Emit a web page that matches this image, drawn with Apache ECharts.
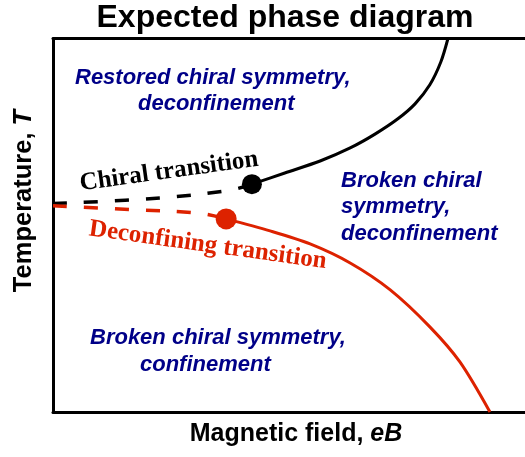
<!DOCTYPE html>
<html><head><meta charset="utf-8">
<script src="https://cdn.jsdelivr.net/npm/echarts@6/dist/echarts.min.js"></script>
<style>html,body{margin:0;padding:0;background:#fff}#c{width:525px;height:457px}</style>
</head><body><div id="c"></div>
<script>
// Magnetic field eB (x, arbitrary 0-100) vs temperature T (y, arbitrary 0-100)
const chiralDashed = [[0,55.8],[22.4,57.3],[37.1,59.4],[41.7,61.0]];
const chiralSolid = [[41.7,61.0],[48.6,64.0],[56.0,67.2],[62.3,70.7],[67.5,74.4],[72.3,78.5],[75.9,82.5],[79.0,87.6],[81.3,93.7],[82.8,100]];
const deconfDashed = [[0,55.2],[16.1,54.2],[30.8,53.2],[36.3,51.7]];
const deconfSolid = [[36.3,51.7],[45.5,48.5],[53.9,45.0],[62.3,39.9],[70.7,32.7],[79.0,22.8],[85.3,13.4],[91.6,0]];
const chiralPoint = [[41.7,61.0]];
const deconfPoint = [[36.3,51.7]];

const RED = '#dd2200', NAVY = '#000088';
const chart = echarts.init(document.getElementById('c'), null, {renderer:'canvas'});
const axisCommon = {type:'value',axisTick:{show:false},axisLabel:{show:false},splitLine:{show:false},
  axisLine:{show:true,onZero:false,lineStyle:{color:'#000',width:3}}};
function region(text, x, y){
  return {type:'text', x:x, y:y, style:{text:text, x:0, y:0, fill:NAVY, fontSize:22, fontWeight:'bold', fontStyle:'italic',
    fontFamily:'Liberation Sans', align:'left', verticalAlign:'middle', textAlign:'left', textVerticalAlign:'middle'}};
}
chart.setOption({
  animation:false,
  grid:{left:53,right:0,top:38.5,bottom:45},
  xAxis:[Object.assign({position:'bottom',min:0,max:98.95},axisCommon),Object.assign({position:'top',min:0,max:98.95},axisCommon)],
  yAxis:[Object.assign({position:'left',min:0,max:100},axisCommon)],
  series:[
    {type:'line',data:chiralDashed,showSymbol:false,smooth:0.4,lineStyle:{color:'#000',width:3.5,type:[14,17]},z:2},
    {type:'line',data:chiralSolid,showSymbol:false,smooth:0.3,lineStyle:{color:'#000',width:3},z:2},
    {type:'line',data:deconfDashed,showSymbol:false,smooth:0.4,lineStyle:{color:RED,width:3.5,type:[14,17]},z:2},
    {type:'line',data:deconfSolid,showSymbol:false,smooth:0.3,lineStyle:{color:RED,width:3},z:2},
    {type:'scatter',data:chiralPoint,symbolSize:20,itemStyle:{color:'#000',opacity:1},z:5},
    {type:'scatter',data:deconfPoint,symbolSize:21,itemStyle:{color:RED,opacity:1},z:5}
  ],
  graphic:[
    {type:'text', x:285, y:18, style:{text:'Expected phase diagram', x:0,y:0, fill:'#000', fontSize:32, fontWeight:'bold',
      fontFamily:'Liberation Sans', align:'center', verticalAlign:'middle', textAlign:'center', textVerticalAlign:'middle'}},
    {type:'text', x:296, y:434, style:{text:'Magnetic field, {i|eB}', x:0,y:0, fill:'#000', fontSize:25, fontWeight:'bold',
      fontFamily:'Liberation Sans', align:'center', verticalAlign:'middle', textAlign:'center', textVerticalAlign:'middle',
      rich:{i:{fontSize:25,fontWeight:'bold',fontStyle:'italic',fontFamily:'Liberation Sans',fill:'#000'}}}},
    {type:'text', x:24.3, y:201, rotation:Math.PI/2, style:{text:'Temperature, {i|T}', x:0,y:0, fill:'#000', fontSize:25.5, fontWeight:'bold',
      fontFamily:'Liberation Sans', align:'center', verticalAlign:'middle', textAlign:'center', textVerticalAlign:'middle',
      rich:{i:{fontSize:25.5,fontWeight:'bold',fontStyle:'italic',fontFamily:'Liberation Sans',fill:'#000'}}}},
    {type:'text', x:169, y:171.6, rotation:0.138, style:{text:'Chiral transition', x:0,y:0, fill:'#000', fontSize:25, fontWeight:'bold',
      fontFamily:'Liberation Serif', align:'center', verticalAlign:'middle', textAlign:'center', textVerticalAlign:'middle'}},
    {type:'text', x:207.8, y:245.4, rotation:-0.138, style:{text:'Deconfining transition', x:0,y:0, fill:RED, fontSize:25, fontWeight:'bold',
      fontFamily:'Liberation Serif', align:'center', verticalAlign:'middle', textAlign:'center', textVerticalAlign:'middle'}},
    region('Restored chiral symmetry,', 75, 78.2),
    region('deconfinement', 138, 104.2),
    region('Broken chiral', 341, 181.2),
    region('symmetry,', 341, 207.2),
    region('deconfinement', 341, 233.7),
    region('Broken chiral symmetry,', 90, 338.2),
    region('confinement', 140, 364.7)
  ]
});
</script></body></html>
